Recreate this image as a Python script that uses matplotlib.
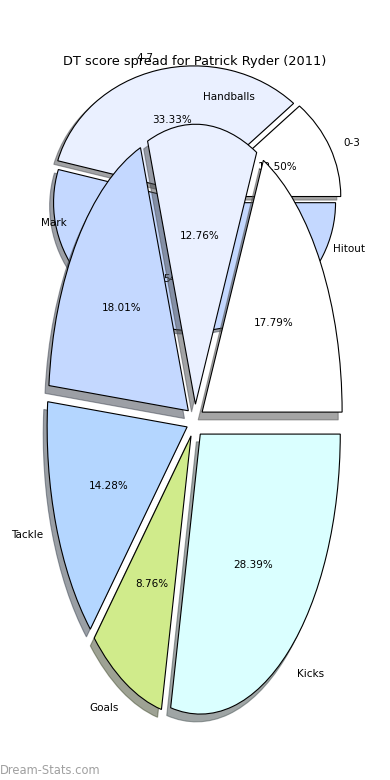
import matplotlib
matplotlib.use("Agg")
import matplotlib.pyplot as plt

# score ranges (back pie)
range_labels = ['0-3', '4-7', '8+']
range_pct = [12.50, 33.33, 54.17]

# stat breakdown (front pie)
stat_labels = ['Hitout', 'Handballs', 'Mark', 'Tackle', 'Goals', 'Kicks']
stat_pct = [17.79, 12.76, 18.01, 14.28, 8.76, 28.39]

colors = ['#FFFFFF', '#EAF0FF', '#C4D8FF', '#B4D6FF', '#D0EB8B', '#DAFFFF']

fig = plt.figure(figsize=(3.9, 7.8), dpi=100)

wprops = dict(edgecolor='black', linewidth=0.8)
txt = dict(fontsize=7.5)

# back pie - squashed, sits behind the top half of the big one
ax_back = fig.add_axes([0.0486, 0.5407, 0.9038, 0.4103])
ax_back.pie(range_pct, labels=range_labels, colors=colors[:3],
            explode=[0.035] * 3, autopct='%1.2f%%', shadow=True,
            wedgeprops=wprops, textprops=txt)
ax_back.set_aspect('auto')
ax_back.set_xlim(-1.25, 1.25)
ax_back.set_ylim(-1.25, 1.25)

# front pie - stretched tall
ax = fig.add_axes([0.05128, 0.01154, 0.8974, 0.8974])
ax.patch.set_visible(False)
ax.pie(stat_pct, labels=stat_labels, colors=colors,
       explode=[0.06] * 6, autopct='%1.2f%%', shadow=True,
       wedgeprops=wprops, textprops=txt)
ax.set_aspect('auto')
ax.set_xlim(-1.25, 1.25)
ax.set_ylim(-1.25, 1.25)

fig.text(0.5, 1 - 61 / 780, 'DT score spread for Patrick Ryder (2011)',
         ha='center', va='center', fontsize=9.3)
fig.text(0.0, 1 - 770 / 780, 'Dream-Stats.com', ha='left', va='center',
         fontsize=8.3, color='#a0a0a0')

fig.savefig('out.png', dpi=100)
